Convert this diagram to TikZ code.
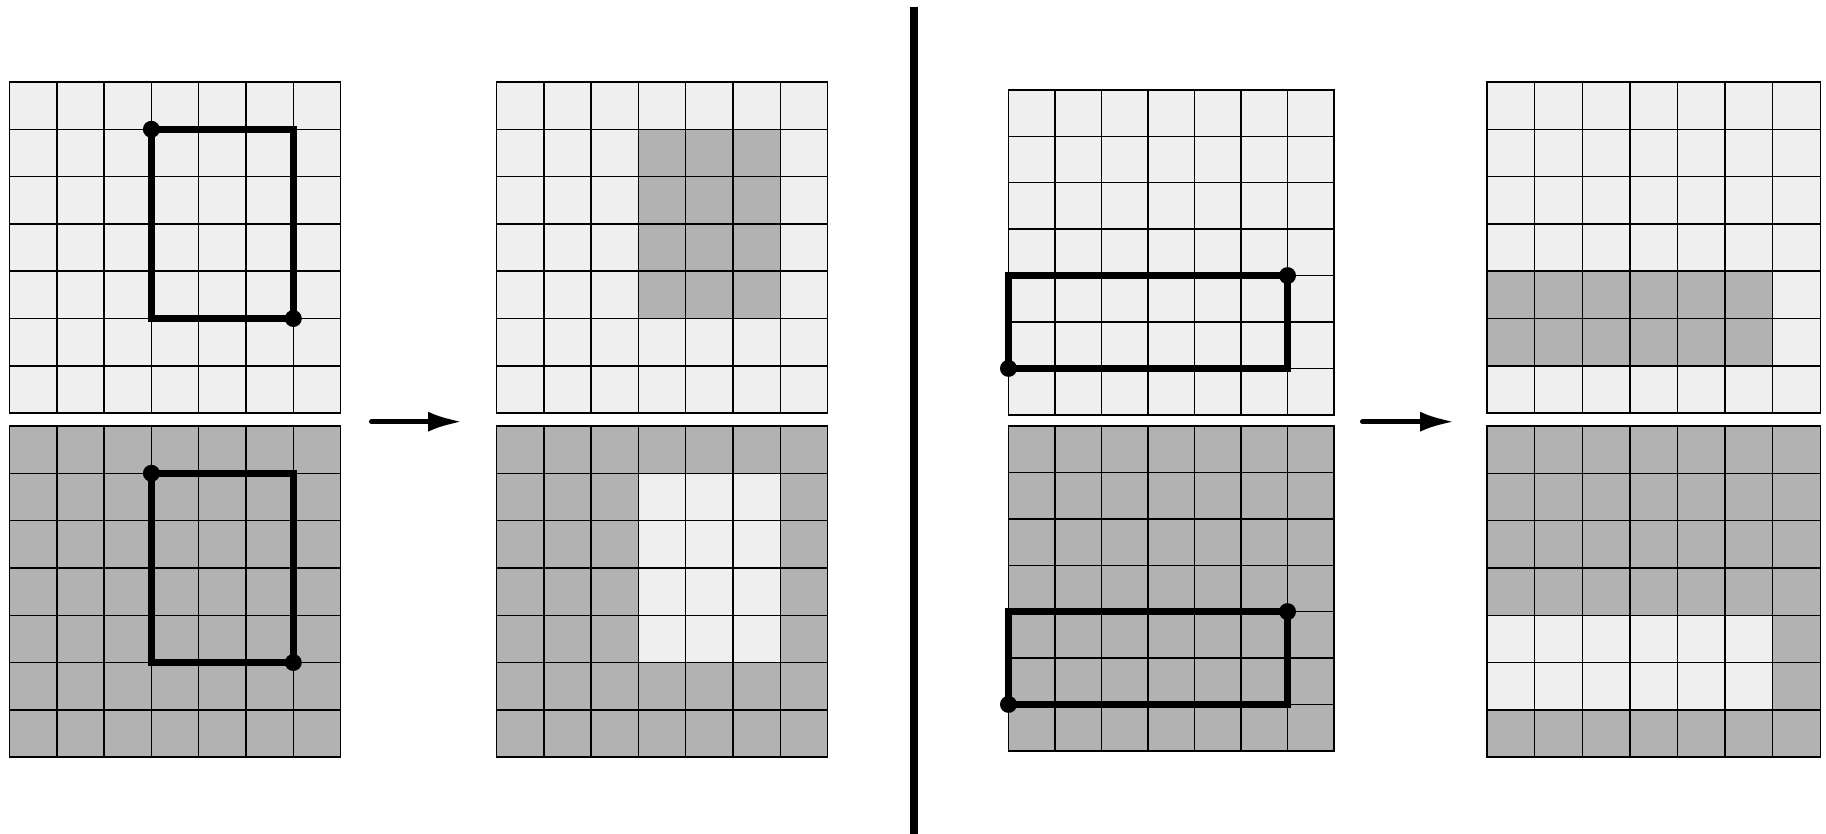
\documentclass[tikz,border=0pt]{standalone}
\usepackage{tikz}
\usetikzlibrary{arrows.meta}
\definecolor{lightcell}{RGB}{239, 239, 239}
\definecolor{darkcell}{RGB}{178, 178, 178}
\newcommand{\gridlines}{%
  \foreach \i in {0,...,7} {
    \draw[gridline] (\i,0) -- (\i,7);
    \draw[gridline] (0,\i) -- (7,\i);
  }}

\begin{document}
\begin{tikzpicture}[x=1pt, y=-1pt,
    gridline/.style={line width=1.4pt, line cap=rect},
    box/.style={line width=6.5pt},
    flow/.style={line width=5.5pt, line cap=round, -{Latex[length=35pt,width=20pt]}}]
  \useasboundingbox (0,0) rectangle (1826,834);

  % left half: tall box
  \begin{scope}[shift={(9.5,82)}, x=47.3pt, y=-47.3pt]
    \fill[lightcell] (0,0) rectangle (7,7);
    \gridlines
    \coordinate (tl1) at (3,1);
    \coordinate (br1) at (6,5);
    \draw[box] (tl1) rectangle (br1);
    \fill (tl1) circle (8.5pt);
    \fill (br1) circle (8.5pt);
  \end{scope}
  \begin{scope}[shift={(9.5,426)}, x=47.3pt, y=-47.3pt]
    \fill[darkcell] (0,0) rectangle (7,7);
    \gridlines
    \coordinate (tl2) at (3,1);
    \coordinate (br2) at (6,5);
    \draw[box] (tl2) rectangle (br2);
    \fill (tl2) circle (8.5pt);
    \fill (br2) circle (8.5pt);
  \end{scope}
  \begin{scope}[shift={(496.5,82)}, x=47.3pt, y=-47.3pt]
    \fill[lightcell] (0,0) rectangle (7,7);
    \fill[darkcell] (3,1) rectangle (6,5);
    \gridlines
  \end{scope}
  \begin{scope}[shift={(496.5,426)}, x=47.3pt, y=-47.3pt]
    \fill[darkcell] (0,0) rectangle (7,7);
    \fill[lightcell] (3,1) rectangle (6,5);
    \gridlines
  \end{scope}
  \coordinate (from1) at (371.7,421.7);
  \coordinate (to1) at (463,421.7);
  \draw[flow] (from1) -- (to1);

  % divider
  \draw[line width=8pt] (914,6.7) -- (914,834);

  % right half: wide box
  \begin{scope}[shift={(1008.5,90)}, x=46.5pt, y=-46.4pt]
    \fill[lightcell] (0,0) rectangle (7,7);
    \gridlines
    \coordinate (bl3) at (0,6);
    \coordinate (tr3) at (6,4);
    \draw[box] (bl3) rectangle (tr3);
    \fill (bl3) circle (8.5pt);
    \fill (tr3) circle (8.5pt);
  \end{scope}
  \begin{scope}[shift={(1008.5,426)}, x=46.5pt, y=-46.4pt]
    \fill[darkcell] (0,0) rectangle (7,7);
    \gridlines
    \coordinate (bl4) at (0,6);
    \coordinate (tr4) at (6,4);
    \draw[box] (bl4) rectangle (tr4);
    \fill (bl4) circle (8.5pt);
    \fill (tr4) circle (8.5pt);
  \end{scope}
  \begin{scope}[shift={(1487,82)}, x=47.6pt, y=-47.3pt]
    \fill[lightcell] (0,0) rectangle (7,7);
    \fill[darkcell] (0,4) rectangle (6,6);
    \gridlines
  \end{scope}
  \begin{scope}[shift={(1487,426)}, x=47.6pt, y=-47.3pt]
    \fill[darkcell] (0,0) rectangle (7,7);
    \fill[lightcell] (0,4) rectangle (6,6);
    \gridlines
  \end{scope}
  \coordinate (from2) at (1362.7,421.7);
  \coordinate (to2) at (1455,421.7);
  \draw[flow] (from2) -- (to2);
\end{tikzpicture}
\end{document}
